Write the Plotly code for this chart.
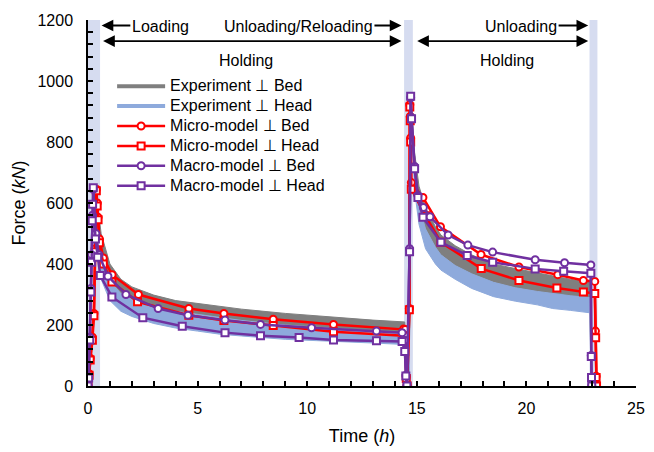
import plotly.graph_objects as go

# ---------------- data ----------------
# Experiment envelopes (noisy bands) : time (h) and force (kN)
exp_t = [0, 0.1, 0.25, 0.4, 0.6, 1.0, 1.5, 2, 3, 4, 5, 6, 7, 9, 11, 13, 14.45, 14.55, 14.65, 14.75,
         14.9, 15.1, 15.4, 15.85, 16.1, 16.75, 17.5, 18.5, 19.5, 20.5, 21.2, 22, 22.9, 22.95]
exp_bed_upper = [0, 250, 650, 615, 500, 400, 350, 325, 298, 280, 270, 260, 252, 238, 226, 216, 210, 0, 0, 925,
                 765, 655, 585, 522, 495, 460, 430, 400, 385, 370, 360, 350, 340, 0]
exp_bed_lower = [0, 230, 600, 560, 440, 345, 303, 285, 262, 245, 235, 225, 215, 200, 190, 180, 173, 0, 0, 870,
                 700, 590, 515, 455, 430, 395, 368, 340, 322, 310, 303, 296, 290, 0]
exp_head_upper = exp_bed_lower
exp_head_lower = [0, 200, 560, 460, 350, 280, 245, 228, 205, 190, 180, 170, 164, 153, 146, 141, 136, 0, 0, 860,
                  640, 530, 450, 400, 380, 350, 320, 293, 278, 266, 254, 248, 240, 0]

# Micro-model, perpendicular to bed (red circles)
micro_bed_t = [0, 0.05, 0.1, 0.2, 0.27, 0.33, 0.38, 0.42, 0.46, 0.52, 0.7, 1.1, 2.3, 4.6, 6.2, 8.45, 11.2, 14.4,
               14.47, 14.52, 14.56, 14.66, 14.68, 14.7, 14.72, 14.75, 15.28, 16.08, 17.93, 19.66, 21.43, 22.6,
               23.12, 23.15, 23.18, 23.2]
micro_bed_f = [0, 40, 91, 160, 238, 450, 645, 600, 553, 482, 420, 365, 300, 254, 238, 219, 202, 187,
               185, 30, 0, 254, 922, 884, 813, 667, 618, 522, 431, 390, 365, 346,
               343, 180, 32, 0]
# Micro-model, perpendicular to head (red squares)
micro_head_t = [0, 0.05, 0.1, 0.2, 0.27, 0.33, 0.38, 0.42, 0.46, 0.52, 0.7, 1.09, 2.26, 4.6, 6.2, 8.45, 11.2, 14.4,
                14.47, 14.52, 14.56, 14.66, 14.68, 14.7, 14.72, 14.75, 15.4, 16.1, 17.94, 19.66, 21.39, 22.6,
                23.12, 23.16, 23.18, 23.2]
micro_head_f = [0, 35, 85, 150, 230, 440, 640, 590, 545, 470, 400, 341, 276, 232, 215, 198, 178, 165,
                163, 25, 0, 250, 915, 870, 800, 645, 558, 471, 385, 346, 321, 308,
                303, 158, 28, 0]
# Macro-model, perpendicular to bed (purple circles)
macro_bed_t = [0, 0.03, 0.08, 0.13, 0.17, 0.21, 0.24, 0.36, 0.5, 0.91, 1.73, 3.2, 4.56, 6.25, 7.87, 10.2, 13.16,
               14.33, 14.45, 14.5, 14.55, 14.67, 14.72, 14.76, 14.9, 15.05, 15.3, 15.6, 16.43, 17.33, 18.46, 20.4,
               21.74, 22.94, 22.96, 22.97, 22.98]
macro_bed_f = [0, 30, 160, 320, 430, 560, 645, 500, 430, 360, 300, 254, 232, 216, 202, 191, 180,
               175, 150, 35, 0, 450, 945, 880, 720, 625, 585, 555, 495, 462, 439, 414,
               404, 397, 100, 28, 0]
# Macro-model, perpendicular to head (purple squares)
macro_head_t = [0, 0.03, 0.08, 0.13, 0.16, 0.19, 0.21, 0.24, 0.34, 0.44, 0.56, 1.09, 2.5, 4.3, 6.25, 7.87, 9.63,
                11.2, 13.16, 14.33, 14.45, 14.5, 14.55, 14.67, 14.72, 14.76, 14.9, 15.05, 15.28, 16.1, 17.3, 18.46,
                20.4, 21.7, 22.94, 22.96, 22.97, 22.98]
macro_head_f = [0, 26, 151, 308, 406, 542, 596, 650, 482, 422, 362, 292, 224, 196, 175, 165, 159,
                151, 148, 146, 113, 33, 0, 440, 950, 876, 712, 618, 553, 471, 428, 406,
                384, 376, 370, 97, 28, 0]

phase_bands = [(0, 0.55), (14.42, 14.82), (22.88, 23.24)]
x_ticks = [0, 5, 10, 15, 20, 25]
y_ticks = [0, 200, 400, 600, 800, 1000, 1200]

# ---------------- styles ----------------
GRAY = "#7f7f7f"
BLUE = "#8eaadc"
RED = "#ff0000"
PURPLE = "#7030a0"
BAND = "#d6dcf0"
FONT = "Arial, Liberation Sans, sans-serif"

fig = go.Figure()

def lg(txt):
    return '<span style="font-size:16px">' + txt + '</span>'

# legend-only entries for the experiment bands
fig.add_trace(go.Scatter(x=[None], y=[None], mode="lines", line=dict(color=GRAY, width=4),
                         name=lg("Experiment ⊥ Bed")))
fig.add_trace(go.Scatter(x=[None], y=[None], mode="lines", line=dict(color=BLUE, width=4),
                         name=lg("Experiment ⊥ Head")))

# experiment bands as filled polygons
fig.add_trace(go.Scatter(x=exp_t + exp_t[::-1], y=exp_bed_upper + exp_bed_lower[::-1],
                         fill="toself", mode="lines", line=dict(color=GRAY, width=1),
                         fillcolor=GRAY, showlegend=False, hoverinfo="skip"))
fig.add_trace(go.Scatter(x=exp_t + exp_t[::-1], y=exp_head_upper + exp_head_lower[::-1],
                         fill="toself", mode="lines", line=dict(color=BLUE, width=1),
                         fillcolor=BLUE, showlegend=False, hoverinfo="skip"))

def model(t, f, color, symbol, name):
    fig.add_trace(go.Scatter(x=t, y=f, mode="lines+markers", name=lg(name),
                             line=dict(color=color, width=2.5),
                             marker=dict(symbol=symbol, size=7, color="white",
                                         line=dict(color=color, width=2))))

model(micro_bed_t, micro_bed_f, RED, "circle", "Micro-model ⊥ Bed")
model(micro_head_t, micro_head_f, RED, "square", "Micro-model ⊥ Head")
model(macro_bed_t, macro_bed_f, PURPLE, "circle", "Macro-model ⊥ Bed")
model(macro_head_t, macro_head_f, PURPLE, "square", "Macro-model ⊥ Head")

# phase bands
for x0, x1 in phase_bands:
    fig.add_shape(type="rect", xref="x", yref="y", x0=x0, x1=x1, y0=0, y1=1200,
                  fillcolor=BAND, line=dict(width=0), layer="below")

# phase arrows and labels
def arrow(x_tail, x_head, y, both=False):
    fig.add_annotation(x=x_head, y=y, ax=x_tail, ay=y, xref="x", yref="y", axref="x", ayref="y",
                       text="", showarrow=True, arrowhead=2, startarrowhead=2, arrowsize=1.3,
                       startarrowsize=1.3, arrowwidth=1.8, arrowcolor="black", standoff=0,
                       startstandoff=0, arrowside="end+start" if both else "end")

def label(x, y, txt):
    fig.add_annotation(x=x, y=y, xref="x", yref="y", text=txt, showarrow=False,
                       font=dict(size=16, family=FONT, color="black"))

label(3.3, 1180, "Loading")
arrow(2.0, 0.62, 1182)
label(9.6, 1180, "Unloading/Reloading")
arrow(13.0, 14.3, 1182)
arrow(0.62, 14.3, 1131, both=True)
label(7.2, 1068, "Holding")

label(19.75, 1180, "Unloading")
arrow(21.4, 22.82, 1182)
arrow(14.95, 22.82, 1131, both=True)
label(19.1, 1068, "Holding")

axis_common = dict(showline=True, linecolor="black", linewidth=1.5, showgrid=False, zeroline=False,
                   ticks="inside", ticklen=5, tickwidth=1.5, tickcolor="black",
                   tickfont=dict(size=16, family=FONT, color="black"))

fig.update_layout(
    width=654, height=452,
    margin=dict(l=88, r=9, t=20, b=63),
    plot_bgcolor="white", paper_bgcolor="white",
    font=dict(family=FONT, size=16, color="black"),
    xaxis=dict(range=[0, 25], tickvals=x_ticks, ticklabelstandoff=7,
               minor=dict(dtick=1, ticks="inside", ticklen=5, tickwidth=1.5, tickcolor="black"),
               title=dict(text="Time (<i>h</i>)", font=dict(size=18, family=FONT), standoff=13),
               **axis_common),
    yaxis=dict(range=[0, 1200], tickvals=y_ticks, ticklabelstandoff=10,
               minor=dict(dtick=40, ticks="inside", ticklen=5, tickwidth=1.5, tickcolor="black"),
               title=dict(text="Force (<i>kN</i>)", font=dict(size=18, family=FONT), standoff=7),
               **axis_common),
    legend=dict(x=0.044, y=0.86, xanchor="left", yanchor="top", bgcolor="rgba(0,0,0,0)",
                font=dict(size=13, family=FONT, color="black"), tracegroupgap=0, itemwidth=48),
    showlegend=True,
)

# remove the default 8px page margin so the figure sits at the window's top-left corner
fig.write_html("out.html", config={"displayModeBar": False},
               post_script="document.body.style.margin='0px';")
